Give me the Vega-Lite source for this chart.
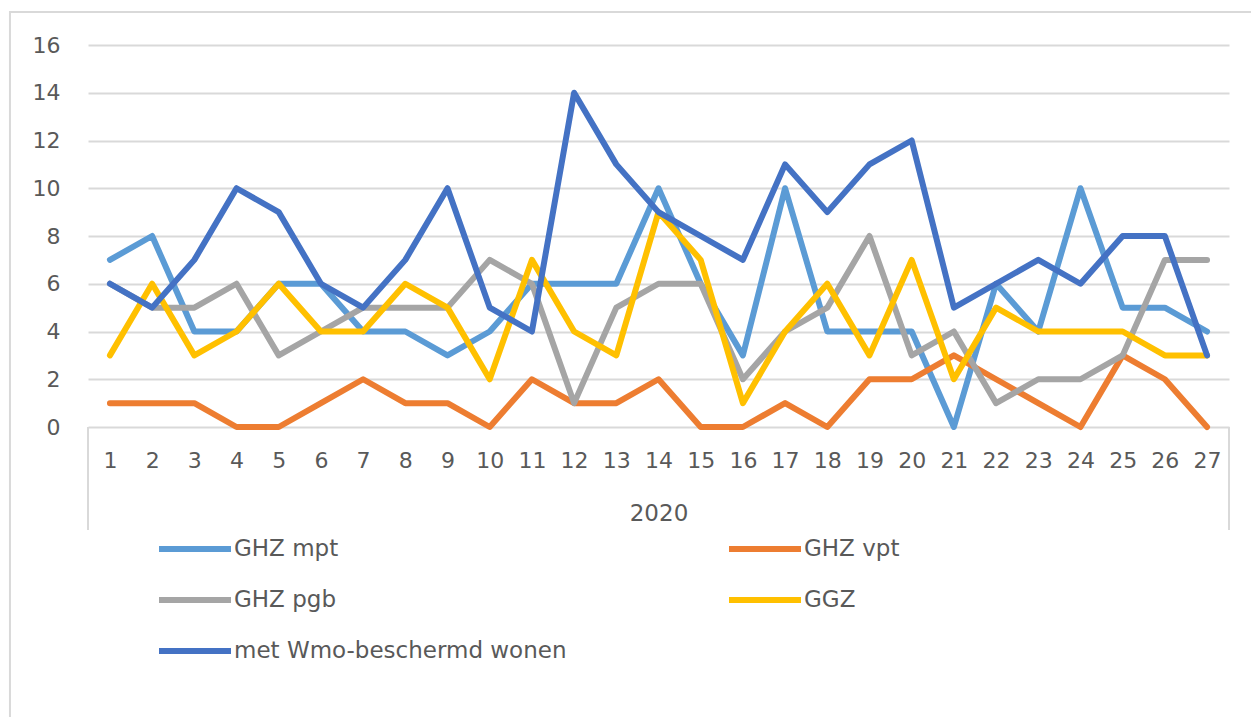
{
  "$schema": "https://vega.github.io/schema/vega-lite/v6.json",
  "width": 1141,
  "height": 382,
  "autosize": {"type": "none"},
  "padding": {"left": 88, "top": 45, "right": 22, "bottom": 290},
  "background": "white",
  "config": {"view": {"stroke": null}, "font": "DejaVu Sans"},
  "data": {
    "values": [
      {"week": 1, "GHZ mpt": 7, "GHZ vpt": 1, "GHZ pgb": 6, "GGZ": 3, "met Wmo-beschermd wonen": 6},
      {"week": 2, "GHZ mpt": 8, "GHZ vpt": 1, "GHZ pgb": 5, "GGZ": 6, "met Wmo-beschermd wonen": 5},
      {"week": 3, "GHZ mpt": 4, "GHZ vpt": 1, "GHZ pgb": 5, "GGZ": 3, "met Wmo-beschermd wonen": 7},
      {"week": 4, "GHZ mpt": 4, "GHZ vpt": 0, "GHZ pgb": 6, "GGZ": 4, "met Wmo-beschermd wonen": 10},
      {"week": 5, "GHZ mpt": 6, "GHZ vpt": 0, "GHZ pgb": 3, "GGZ": 6, "met Wmo-beschermd wonen": 9},
      {"week": 6, "GHZ mpt": 6, "GHZ vpt": 1, "GHZ pgb": 4, "GGZ": 4, "met Wmo-beschermd wonen": 6},
      {"week": 7, "GHZ mpt": 4, "GHZ vpt": 2, "GHZ pgb": 5, "GGZ": 4, "met Wmo-beschermd wonen": 5},
      {"week": 8, "GHZ mpt": 4, "GHZ vpt": 1, "GHZ pgb": 5, "GGZ": 6, "met Wmo-beschermd wonen": 7},
      {"week": 9, "GHZ mpt": 3, "GHZ vpt": 1, "GHZ pgb": 5, "GGZ": 5, "met Wmo-beschermd wonen": 10},
      {"week": 10, "GHZ mpt": 4, "GHZ vpt": 0, "GHZ pgb": 7, "GGZ": 2, "met Wmo-beschermd wonen": 5},
      {"week": 11, "GHZ mpt": 6, "GHZ vpt": 2, "GHZ pgb": 6, "GGZ": 7, "met Wmo-beschermd wonen": 4},
      {"week": 12, "GHZ mpt": 6, "GHZ vpt": 1, "GHZ pgb": 1, "GGZ": 4, "met Wmo-beschermd wonen": 14},
      {"week": 13, "GHZ mpt": 6, "GHZ vpt": 1, "GHZ pgb": 5, "GGZ": 3, "met Wmo-beschermd wonen": 11},
      {"week": 14, "GHZ mpt": 10, "GHZ vpt": 2, "GHZ pgb": 6, "GGZ": 9, "met Wmo-beschermd wonen": 9},
      {"week": 15, "GHZ mpt": 6, "GHZ vpt": 0, "GHZ pgb": 6, "GGZ": 7, "met Wmo-beschermd wonen": 8},
      {"week": 16, "GHZ mpt": 3, "GHZ vpt": 0, "GHZ pgb": 2, "GGZ": 1, "met Wmo-beschermd wonen": 7},
      {"week": 17, "GHZ mpt": 10, "GHZ vpt": 1, "GHZ pgb": 4, "GGZ": 4, "met Wmo-beschermd wonen": 11},
      {"week": 18, "GHZ mpt": 4, "GHZ vpt": 0, "GHZ pgb": 5, "GGZ": 6, "met Wmo-beschermd wonen": 9},
      {"week": 19, "GHZ mpt": 4, "GHZ vpt": 2, "GHZ pgb": 8, "GGZ": 3, "met Wmo-beschermd wonen": 11},
      {"week": 20, "GHZ mpt": 4, "GHZ vpt": 2, "GHZ pgb": 3, "GGZ": 7, "met Wmo-beschermd wonen": 12},
      {"week": 21, "GHZ mpt": 0, "GHZ vpt": 3, "GHZ pgb": 4, "GGZ": 2, "met Wmo-beschermd wonen": 5},
      {"week": 22, "GHZ mpt": 6, "GHZ vpt": 2, "GHZ pgb": 1, "GGZ": 5, "met Wmo-beschermd wonen": 6},
      {"week": 23, "GHZ mpt": 4, "GHZ vpt": 1, "GHZ pgb": 2, "GGZ": 4, "met Wmo-beschermd wonen": 7},
      {"week": 24, "GHZ mpt": 10, "GHZ vpt": 0, "GHZ pgb": 2, "GGZ": 4, "met Wmo-beschermd wonen": 6},
      {"week": 25, "GHZ mpt": 5, "GHZ vpt": 3, "GHZ pgb": 3, "GGZ": 4, "met Wmo-beschermd wonen": 8},
      {"week": 26, "GHZ mpt": 5, "GHZ vpt": 2, "GHZ pgb": 7, "GGZ": 3, "met Wmo-beschermd wonen": 8},
      {"week": 27, "GHZ mpt": 4, "GHZ vpt": 0, "GHZ pgb": 7, "GGZ": 3, "met Wmo-beschermd wonen": 3}
    ]
  },
  "layer": [
    {
      "data": {"values": [{}]},
      "mark": {"type": "rect", "fill": null, "stroke": "#d9d9d9", "strokeWidth": 2},
      "encoding": {
        "x": {"datum": -0.0684, "type": "quantitative", "scale": {"domain": [0, 1], "nice": false, "zero": false}, "axis": null},
        "x2": {"datum": 1.05},
        "y": {"datum": 17.38, "type": "quantitative", "scale": {"domain": [0, 16], "nice": false}, "axis": null},
        "y2": {"datum": -13}
      }
    },
    {
      "data": {"values": [{}]},
      "mark": {"type": "rule", "stroke": "#d9d9d9", "strokeWidth": 2},
      "encoding": {
        "x": {"datum": 0, "type": "quantitative", "scale": {"domain": [0, 1], "nice": false, "zero": false}, "axis": null},
        "y": {"datum": 0, "type": "quantitative", "scale": {"domain": [0, 16], "nice": false}, "axis": null},
        "y2": {"datum": -4.31}
      }
    },
    {
      "data": {"values": [{}]},
      "mark": {"type": "rule", "stroke": "#d9d9d9", "strokeWidth": 2},
      "encoding": {
        "x": {"datum": 1, "type": "quantitative", "scale": {"domain": [0, 1], "nice": false, "zero": false}, "axis": null},
        "y": {"datum": 0, "type": "quantitative", "scale": {"domain": [0, 16], "nice": false}, "axis": null},
        "y2": {"datum": -4.31}
      }
    },
    {
      "transform": [
        {"fold": ["GHZ mpt", "GHZ vpt", "GHZ pgb", "GGZ", "met Wmo-beschermd wonen"], "as": ["series", "value"]}
      ],
      "mark": {"type": "line", "strokeWidth": 6, "strokeCap": "round", "strokeJoin": "round"},
      "encoding": {
        "x": {
          "field": "week",
          "type": "ordinal",
          "scale": {"type": "point", "padding": 0.52},
          "axis": {
            "title": "2020",
            "titleFontSize": 23,
            "titleFontWeight": "normal",
            "titleColor": "#595959",
            "titlePadding": 31,
            "labelAngle": 0,
            "labelFontSize": 22,
            "labelColor": "#595959",
            "labelPadding": 23,
            "domain": false,
            "ticks": false,
            "grid": false
          }
        },
        "y": {
          "field": "value",
          "type": "quantitative",
          "scale": {"domain": [0, 16], "nice": false},
          "axis": {
            "title": null,
            "values": [0, 2, 4, 6, 8, 10, 12, 14, 16],
            "grid": true,
            "gridColor": "#d9d9d9",
            "gridWidth": 2,
            "domain": false,
            "ticks": false,
            "labelFontSize": 22,
            "labelColor": "#595959",
            "labelPadding": 28
          }
        },
        "color": {
          "field": "series",
          "type": "nominal",
          "scale": {
            "domain": ["GHZ mpt", "GHZ vpt", "GHZ pgb", "GGZ", "met Wmo-beschermd wonen"],
            "range": ["#5B9BD5", "#ED7D31", "#A5A5A5", "#FFC000", "#4472C4"]
          },
          "legend": {
            "title": null,
            "orient": "none",
            "direction": "horizontal",
            "legendX": 68,
            "legendY": 465,
            "columns": 2,
            "symbolType": "stroke",
            "symbolSize": 5184,
            "symbolStrokeWidth": 6,
            "labelFontSize": 23,
            "labelColor": "#595959",
            "labelLimit": 500,
            "labelOffset": 0,
            "rowPadding": 0,
            "columnPadding": 150
          }
        }
      }
    }
  ],
  "resolve": {"scale": {"x": "independent", "y": "independent"}, "axis": {"x": "independent", "y": "independent"}}
}
